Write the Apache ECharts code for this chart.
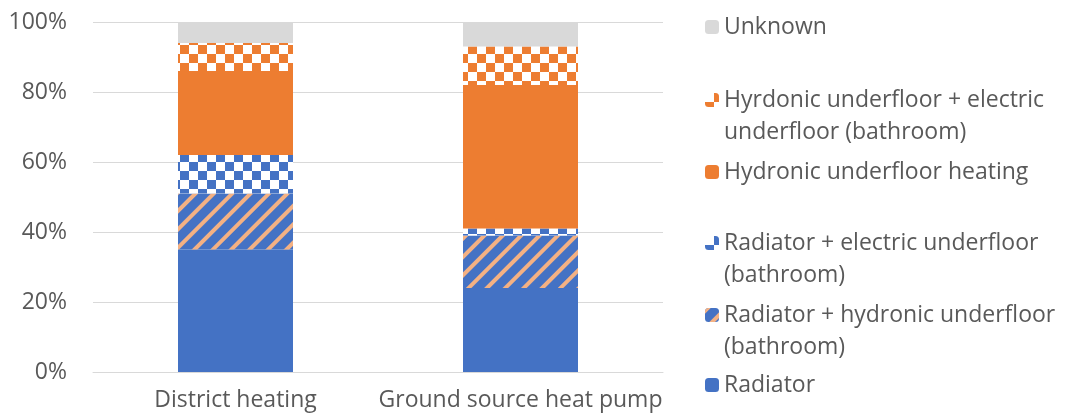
<!DOCTYPE html>
<html><head><meta charset="utf-8">
<script src="https://cdn.jsdelivr.net/npm/echarts@6/dist/echarts.min.js"></script>
<style>html,body{margin:0;padding:0;background:#fff}#c{width:1069px;height:419px}</style>
</head><body><div id="c"></div>
<script>
const categories = ['District heating', 'Ground source heat pump'];
const seriesNames = [
  'Radiator',
  'Radiator + hydronic underfloor (bathroom)',
  'Radiator + electric underfloor (bathroom)',
  'Hydronic underfloor heating',
  'Hyrdonic underfloor + electric underfloor (bathroom)',
  'Unknown'
];
const radiator = [35, 24];
const radiatorHydronic = [16, 15];
const radiatorElectric = [11, 2];
const hydronic = [24, 41];
const hydronicElectric = [8, 11];
const unknown = [6, 7];
const yTicks = ['0%', '20%', '40%', '60%', '80%', '100%'];
const legendLines = [
  ['Radiator'],
  ['Radiator + hydronic underfloor', '(bathroom)'],
  ['Radiator + electric underfloor', '(bathroom)'],
  ['Hydronic underfloor heating'],
  ['Hyrdonic underfloor + electric', 'underfloor (bathroom)'],
  ['Unknown']
];
const values = [radiator, radiatorHydronic, radiatorElectric, hydronic, hydronicElectric, unknown];

const BLUE = '#4472C4', ORANGE = '#ED7D31', LIGHTORANGE = '#F4B183', GREY = '#D9D9D9';
const FONT = 'Open Sans';
const FS = 23;
const TXT = '#595959';
const checker = (c) => ({symbol: 'rect', symbolSize: 1, dashArrayX: [[8.5, 8.5], [0, 8.5, 8.5, 0]], dashArrayY: [8.5, 0], color: c, rotation: 0});
const stripes = {symbol: 'rect', symbolSize: 1, dashArrayX: [1, 0], dashArrayY: [3.5, 8.5], rotation: -Math.PI / 4, color: LIGHTORANGE};
const styles = [
  {color: BLUE},
  {color: BLUE, decal: stripes},
  {color: '#ffffff', decal: checker(BLUE)},
  {color: ORANGE},
  {color: '#ffffff', decal: checker(ORANGE)},
  {color: GREY}
];

// legend layout (first-line center y per item)
const LH = 32;
const legendCenters = [385, 315, 243, 172, 100, 27];
const legends = seriesNames.map((n, i) => {
  const lines = legendLines[i];
  const twoLine = lines.length > 1;
  // for two-line labels an empty leading line keeps the first line beside the icon
  const label = twoLine ? '\n' + lines.join('\n') : lines[0];
  return {
    data: [n],
    orient: 'vertical',
    left: 705,
    top: legendCenters[i] - (twoLine ? 1.5 * LH : 0.5 * LH),
    padding: 0,
    itemWidth: 14,
    itemHeight: 14,
    selectedMode: false,
    formatter: () => label,
    textStyle: {fontFamily: FONT, fontSize: FS, color: TXT, lineHeight: LH}
  };
});

const chart = echarts.init(document.getElementById('c'), null, {renderer: 'canvas'});
chart.setOption({
  animation: false,
  backgroundColor: '#fff',
  grid: {left: 93, right: 406, top: 22, bottom: 47, containLabel: false},
  legend: legends,
  xAxis: {
    type: 'category', data: categories,
    axisLine: {lineStyle: {color: GREY, width: 1}},
    axisTick: {show: false},
    axisLabel: {fontFamily: FONT, fontSize: FS, color: TXT, margin: 17, interval: 0, hideOverlap: false}
  },
  yAxis: {
    type: 'value', min: 0, max: 100, interval: 20,
    axisLine: {show: false}, axisTick: {show: false},
    splitLine: {lineStyle: {color: GREY, width: 1}},
    axisLabel: {fontFamily: FONT, fontSize: FS, color: TXT, margin: 26,
      formatter: (v) => yTicks[Math.round(v / 20)]}
  },
  series: seriesNames.map((n, i) => ({
    name: n, type: 'bar', stack: 'total', barWidth: 115,
    data: values[i], itemStyle: styles[i]
  }))
});
</script></body></html>
